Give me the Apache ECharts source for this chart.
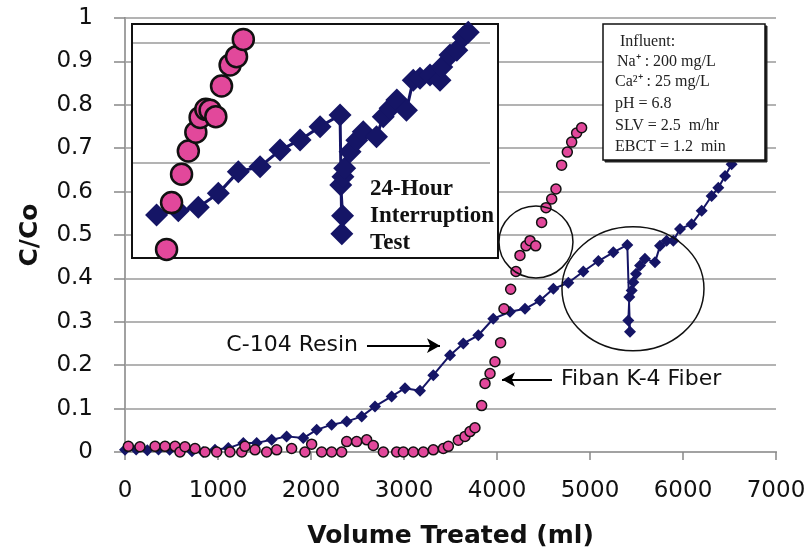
<!DOCTYPE html>
<html>
<head>
<meta charset="utf-8">
<script src="https://cdn.jsdelivr.net/npm/echarts@6/dist/echarts.min.js"></script>
<style>
  html, body { margin: 0; padding: 0; background: #fff; }
  #chart { width: 811px; height: 554px; }
</style>
</head>
<body>
<div id="chart"></div>
<script>
// main chart: C-104 resin (volume ml, C/Co)
const resinX = [0, 120, 240, 360, 480, 600, 720, 840, 968, 1111, 1272, 1416, 1577, 1738, 1917, 2061, 2222, 2384, 2545, 2688, 2867, 3011, 3172, 3315, 3495, 3638, 3799, 3960, 4140, 4301, 4462, 4606, 4767, 4928, 5090, 5251, 5401, 5430, 5412, 5423, 5448, 5466, 5495, 5538, 5591, 5699, 5753, 5824, 5896, 5968, 6093, 6201, 6308, 6380, 6452, 6523];
const resinY = [0.005, 0.006, 0.004, 0.006, 0.005, 0.004, 0.002, 0.0, 0.005, 0.009, 0.021, 0.021, 0.028, 0.036, 0.032, 0.051, 0.063, 0.070, 0.082, 0.105, 0.128, 0.147, 0.141, 0.177, 0.223, 0.25, 0.269, 0.307, 0.323, 0.330, 0.349, 0.376, 0.390, 0.416, 0.440, 0.460, 0.477, 0.277, 0.303, 0.357, 0.372, 0.391, 0.411, 0.430, 0.445, 0.437, 0.475, 0.487, 0.487, 0.514, 0.525, 0.556, 0.590, 0.609, 0.636, 0.663];

// main chart: Fiban K-4 fiber
const fiberX = [36, 161, 323, 430, 538, 591, 645, 753, 860, 986, 1129, 1255, 1290, 1398, 1523, 1631, 1792, 1935, 2007, 2115, 2222, 2330, 2384, 2491, 2599, 2670, 2778, 2921, 2993, 3100, 3208, 3315, 3423, 3477, 3584, 3656, 3710, 3763, 3835, 3871, 3925, 3978, 4039, 4075, 4147, 4204, 4247, 4312, 4355, 4416, 4480, 4527, 4588, 4634, 4695, 4756, 4803, 4856, 4910];
const fiberY = [0.013, 0.012, 0.013, 0.013, 0.013, 0.0, 0.012, 0.008, 0.0, 0.0, 0.0, 0.0, 0.013, 0.005, 0.0, 0.005, 0.008, 0.0, 0.018, 0.0, 0.0, 0.0, 0.024, 0.024, 0.028, 0.015, 0.0, 0.0, 0.0, 0.0, 0.0, 0.005, 0.008, 0.013, 0.027, 0.036, 0.047, 0.056, 0.107, 0.158, 0.181, 0.208, 0.252, 0.330, 0.375, 0.416, 0.453, 0.475, 0.487, 0.475, 0.529, 0.563, 0.583, 0.606, 0.661, 0.691, 0.714, 0.735, 0.747];

// inset (24-hour interruption test), relative units
const insetResinX = [6.6, 12.7, 18.3, 23.9, 29.5, 35.6, 41.2, 46.8, 52.4, 58.0, 58.5, 58.7, 58.2, 58.8, 59.3, 60.8, 62.7, 64.5, 68.2, 70.1, 72.0, 73.9, 76.6, 78.5, 80.4, 83.2, 86.0, 86.5, 88.8, 90.7, 92.5, 93.9];
const insetResinY = [-0.433, -0.397, -0.369, -0.253, -0.072, -0.031, 0.108, 0.192, 0.303, 0.40, -0.59, -0.44, -0.183, -0.114, -0.044, 0.094, 0.19, 0.26, 0.219, 0.386, 0.456, 0.525, 0.44, 0.69, 0.706, 0.733, 0.69, 0.80, 0.90, 0.94, 1.05, 1.09];
const insetFiberX = [9.4, 10.8, 13.6, 15.5, 17.6, 18.8, 20.4, 21.6, 23.2, 24.8, 27.2, 29.0, 30.9];
const insetFiberY = [-0.72, -0.33, -0.094, 0.10, 0.256, 0.38, 0.447, 0.44, 0.386, 0.642, 0.817, 0.886, 1.03];

const influentLines = ['Influent:', 'Na\u207A : 200 mg/L', 'Ca\u00B2\u207A : 25 mg/L', 'pH = 6.8', 'SLV = 2.5  m/hr', 'EBCT = 1.2  min'];

const NAVY = '#151566';
const PINK = '#e2489b';
const GRID = '#9a9a9a';
const SANS = 'DejaVu Sans';
const SERIF = 'Liberation Serif';

const zip = (xs, ys) => xs.map((x, i) => [x, ys[i]]);

const chart = echarts.init(document.getElementById('chart'));

const option = {
  animation: false,
  backgroundColor: '#fff',
  grid: [
    { left: 125, right: 35, top: 18, bottom: 100 },
    { left: 133, top: 43, width: 357, height: 120 }
  ],
  xAxis: [
    {
      type: 'value', gridIndex: 0, min: 0, max: 7000, interval: 1000,
      name: 'Volume Treated (ml)', nameLocation: 'middle', nameGap: 72,
      nameTextStyle: { fontFamily: SANS, fontWeight: 'bold', fontSize: 25, color: '#111' },
      axisLine: { lineStyle: { color: '#888', width: 2 } },
      axisTick: { show: true, length: 8, lineStyle: { color: '#888', width: 1.5 } },
      axisLabel: { fontFamily: SANS, fontSize: 23, color: '#111', margin: 28, formatter: v => String(v) },
      splitLine: { show: false }
    },
    {
      type: 'value', gridIndex: 0, position: 'top', min: 0, max: 7000,
      axisLine: { lineStyle: { color: '#aaa', width: 1.5 } },
      axisTick: { show: false }, axisLabel: { show: false }, splitLine: { show: false }
    },
    {
      type: 'value', gridIndex: 1, min: 0, max: 100, z: 5,
      axisLine: { show: false }, axisTick: { show: false }, axisLabel: { show: false }, splitLine: { show: false }
    }
  ],
  yAxis: [
    {
      type: 'value', gridIndex: 0, min: 0, max: 1, interval: 0.1,
      name: 'C/Co', nameLocation: 'middle', nameGap: 82,
      nameTextStyle: { fontFamily: SANS, fontWeight: 'bold', fontSize: 25, color: '#111' },
      axisLine: { show: true, lineStyle: { color: '#888', width: 2 } },
      axisTick: { show: true, length: 11, lineStyle: { color: '#888', width: 1.5 } },
      axisLabel: { fontFamily: SANS, fontSize: 23, color: '#111', margin: 32 },
      splitLine: { lineStyle: { color: GRID, width: 1.5 } }
    },
    {
      type: 'value', gridIndex: 0, position: 'right', min: 0, max: 1,
      axisLine: { show: true, lineStyle: { color: '#aaa', width: 1.5 } },
      axisTick: { show: false }, axisLabel: { show: false }, splitLine: { show: false }
    },
    {
      type: 'value', gridIndex: 1, min: 0, max: 1, interval: 1, z: 5,
      axisLine: { show: false }, axisTick: { show: false }, axisLabel: { show: false },
      splitLine: { lineStyle: { color: GRID, width: 1.5 } }
    }
  ],
  series: [
    {
      name: 'C-104 Resin', type: 'line', xAxisIndex: 0, yAxisIndex: 0,
      data: zip(resinX, resinY),
      symbol: 'diamond', symbolSize: 12,
      lineStyle: { color: NAVY, width: 2 },
      itemStyle: { color: NAVY },
      z: 3,
      markLine: {
        silent: true, animation: false,
        symbol: ['none', 'arrow'], symbolSize: [11, 13],
        lineStyle: { color: '#000', width: 2, type: 'solid' },
        label: { show: true, position: 'start', distance: 9, formatter: 'C-104 Resin', fontFamily: SANS, fontSize: 22, color: '#111' },
        data: [[{ coord: [2602, 0.245] }, { coord: [3387, 0.245] }]]
      }
    },
    {
      name: 'Fiban K-4 Fiber', type: 'scatter', xAxisIndex: 0, yAxisIndex: 0,
      data: zip(fiberX, fiberY),
      symbol: 'circle', symbolSize: 10,
      itemStyle: { color: PINK, opacity: 1, borderColor: '#111', borderWidth: 1.5 },
      z: 4,
      markLine: {
        silent: true, animation: false,
        symbol: ['none', 'arrow'], symbolSize: [11, 13],
        lineStyle: { color: '#000', width: 2, type: 'solid' },
        label: { show: true, position: 'start', distance: 9, formatter: 'Fiban K-4 Fiber', fontFamily: SANS, fontSize: 22, color: '#111' },
        data: [[{ coord: [4591, 0.167] }, { coord: [4054, 0.167] }]]
      }
    },
    {
      name: 'inset resin', type: 'line', xAxisIndex: 2, yAxisIndex: 2,
      data: zip(insetResinX, insetResinY),
      symbol: 'diamond', symbolSize: 23, clip: false,
      lineStyle: { color: NAVY, width: 3 },
      itemStyle: { color: NAVY },
      z: 10
    },
    {
      name: 'inset fiber', type: 'scatter', xAxisIndex: 2, yAxisIndex: 2,
      data: zip(insetFiberX, insetFiberY),
      symbol: 'circle', symbolSize: 21, clip: false,
      itemStyle: { color: PINK, opacity: 1, borderColor: '#111', borderWidth: 2.5 },
      z: 11
    }
  ]
};

chart.setOption(option);

// annotation ellipses placed in data space of the main grid
const ellipseAt = (x, y, rx, ry) => {
  const p = chart.convertToPixel({ gridIndex: 0 }, [x, y]);
  return {
    type: 'ellipse', z: 6,
    shape: { cx: p[0], cy: p[1], rx: rx, ry: ry },
    style: { fill: 'none', stroke: '#111', lineWidth: 1.5 }
  };
};

const influentText = influentLines.map((t, i) => ({
  type: 'text', z: 22,
  x: (i < 3 ? [17, 14, 12][i] : 12),
  y: [10, 30, 50, 72, 94, 115][i],
  style: { text: t, fontFamily: SERIF, fontSize: 16, fill: '#222' }
}));

chart.setOption({
  graphic: [
    {
      type: 'rect', z: 1,
      shape: { x: 132, y: 24, width: 366, height: 234 },
      style: { fill: '#fff', stroke: '#111', lineWidth: 2 }
    },
    {
      type: 'text', z: 12, left: 370, top: 176,
      style: { text: '24-Hour\nInterruption\nTest', fontFamily: SERIF, fontWeight: 'bold', fontSize: 23, lineHeight: 27, fill: '#111' }
    },
    ellipseAt(4419, 0.484, 37, 36),
    ellipseAt(5462, 0.376, 71, 62),
    {
      type: 'group', x: 603, y: 24, z: 20,
      children: [
        {
          type: 'rect', z: 20,
          shape: { x: 2, y: 2, width: 162, height: 136 },
          style: { fill: '#222', stroke: '#222', lineWidth: 1 }
        },
        {
          type: 'rect', z: 21,
          shape: { x: 0, y: 0, width: 162, height: 136 },
          style: { fill: '#fff', stroke: '#111', lineWidth: 1.5 }
        }
      ].concat(influentText)
    }
  ]
});
</script>
</body>
</html>
